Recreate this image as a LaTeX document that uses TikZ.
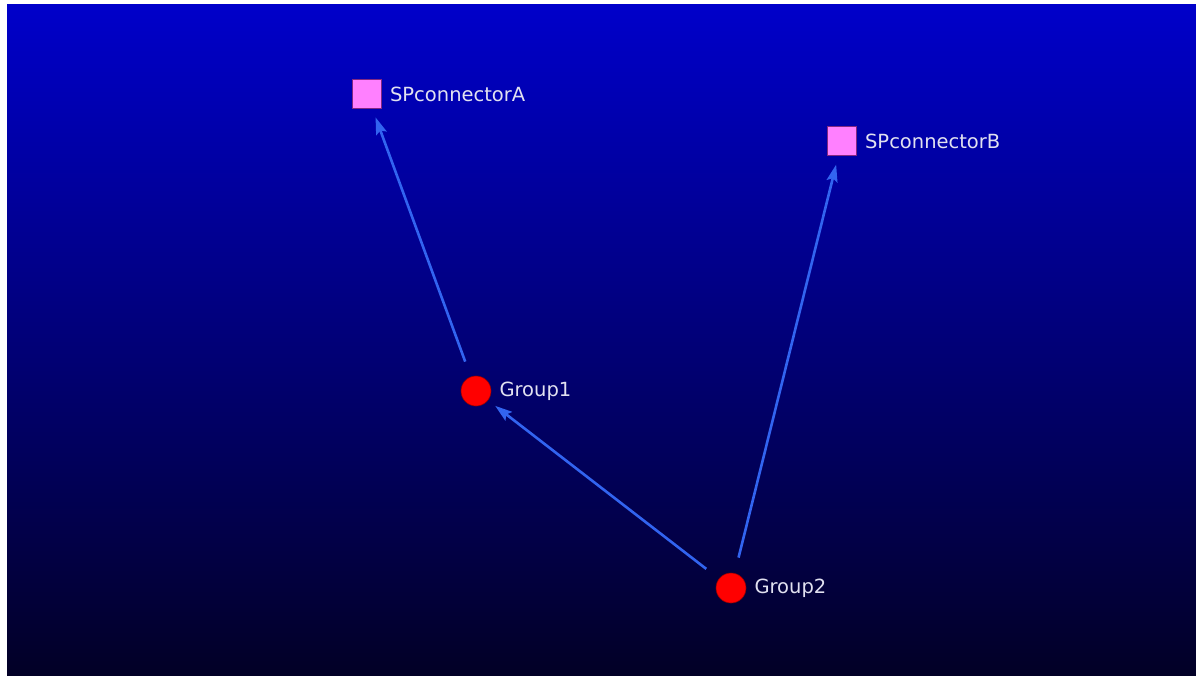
\documentclass[tikz,border=0pt]{standalone}
\usepackage{fontspec}
\setmainfont{DejaVu Sans}
\usepackage{xcolor}
\usetikzlibrary{arrows.meta,positioning}

\definecolor{skytop}{RGB}{0,0,202}
\definecolor{skybottom}{RGB}{2,0,38}
\definecolor{edgeblue}{RGB}{50,100,240}
\definecolor{connpink}{RGB}{255,128,255}
\definecolor{connedge}{RGB}{130,40,130}
\definecolor{groupred}{RGB}{255,0,0}
\definecolor{labelgray}{RGB}{225,225,240}

\begin{document}
\begin{tikzpicture}[
    x=1pt, y=-1pt,
    conn/.style={rectangle, draw=connedge, line width=0.8pt, fill=connpink,
                 minimum size=29pt, inner sep=0pt},
    group/.style={circle, draw=red!60!black, line width=0.6pt, fill=groupred,
                  minimum size=30pt, inner sep=0pt},
    arrow/.style={-{Stealth[length=17pt,width=11pt,inset=3pt]}, edgeblue, line width=2.6pt,
                  shorten <=16pt, shorten >=9pt},
    txt/.style={font=\fontsize{19.5}{22}\selectfont, text=labelgray, inner sep=0pt}
]

% Background
\fill[white] (0,0) rectangle (1196,675);
\useasboundingbox (0,0) rectangle (1196,675);
\shade[top color=skytop, bottom color=skybottom] (7,4) rectangle (1196,675);

\node[conn]  (spA) at (367,94)  {};
\node[conn]  (spB) at (842,141) {};
\node[group] (g1)  at (476,391) {};
\node[group] (g2)  at (731,588) {};

% Labels
\node[txt, right=8pt of spA] (spAlbl) {SPconnectorA};
\node[txt, right=8pt of spB] (spBlbl) {SPconnectorB};
\node[txt, right=8pt of g1]  (g1lbl)  {Group1};
\node[txt, right=8pt of g2]  (g2lbl)  {Group2};

\draw[arrow] (g1) -- (spA);
\draw[arrow] (g2) -- (g1);
\draw[arrow] (g2) -- (spB);

\end{tikzpicture}
\end{document}
